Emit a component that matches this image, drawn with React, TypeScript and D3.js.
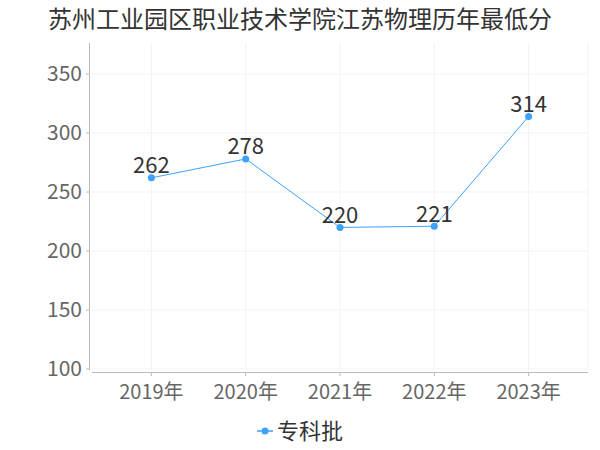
import * as React from 'react';
import * as d3 from 'd3';

const title = '苏州工业园区职业技术学院江苏物理历年最低分';
const years = ['2019年', '2020年', '2021年', '2022年', '2023年'];
const scores = [262, 278, 220, 221, 314];
const yTicks = [100, 150, 200, 250, 300, 350];
const seriesName = '专科批';

const W = 600;
const H = 450;
const font = '"Noto Sans CJK SC", "Noto Sans", sans-serif';
const lineColour = '#3ba2ff';

export default function App() {
  const x = d3.scalePoint<string>().domain(years).range([92, 588]).padding(0.63);
  const y = d3.scaleLinear().domain([100, 350]).range([369, 74]);

  const line = d3.line<number>()
    .x((_, i) => x(years[i]) as number)
    .y(d => y(d));

  const gridX = [...years.map(yr => x(yr) as number), 588];

  return (
    <svg width={W} height={H} style={{ position: 'absolute', left: 0, top: 0, fontFamily: font }}>
      <rect width={W} height={H} fill="#fff" />
      <text x={300} y={28} textAnchor="middle" fontSize={24} fill="#333">{title}</text>

      {yTicks.map(t => (
        <line key={'h' + t} x1={92} x2={588} y1={y(t)} y2={y(t)} stroke="#f3f3f3" />
      ))}
      {gridX.map((gx, i) => (
        <line key={'v' + i} x1={gx} x2={gx} y1={43} y2={370} stroke="#f3f3f3" />
      ))}

      <line x1={89.5} x2={89.5} y1={43} y2={370} stroke="#bbb" />
      {yTicks.map(t => (
        <g key={'yt' + t}>
          <line x1={86} x2={89.5} y1={y(t)} y2={y(t)} stroke="#bbb" />
          <text x={82} y={y(t)} dy="0.35em" textAnchor="end" fontSize={21} fill="#666">{t}</text>
        </g>
      ))}

      <line x1={92} x2={588} y1={372.5} y2={372.5} stroke="#bbb" />
      {years.map(yr => (
        <g key={yr}>
          <line x1={x(yr)} x2={x(yr)} y1={372.5} y2={376} stroke="#bbb" />
          <text x={x(yr)} y={399} textAnchor="middle" fontSize={20} fill="#666">{yr}</text>
        </g>
      ))}

      <path d={line(scores) || ''} fill="none" stroke={lineColour} strokeWidth={1} />
      {scores.map((s, i) => (
        <g key={'p' + i}>
          <circle cx={x(years[i])} cy={y(s)} r={3.5} fill={lineColour} />
          <text x={x(years[i])} y={y(s) - 4.5} textAnchor="middle" fontSize={22} fill="#333">{s}</text>
        </g>
      ))}

      <line x1={257} x2={273} y1={431} y2={431} stroke={lineColour} strokeWidth={1.5} />
      <circle cx={265} cy={431} r={3.5} fill={lineColour} />
      <text x={277} y={431} dy="0.35em" fontSize={22} fill="#333">{seriesName}</text>
    </svg>
  );
}
